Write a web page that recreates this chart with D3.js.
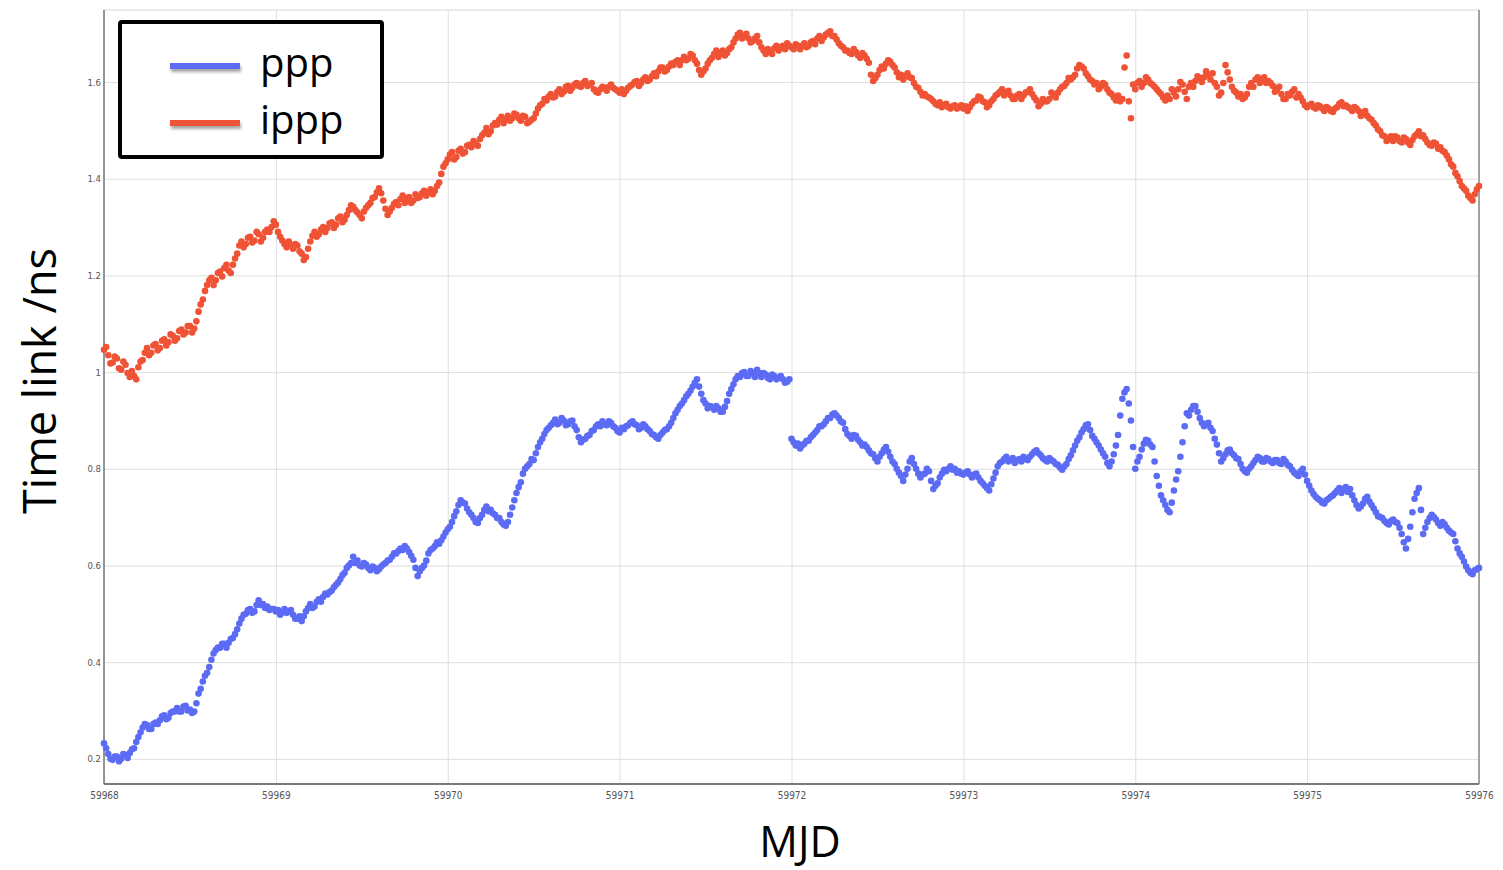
<!DOCTYPE html>
<html>
<head>
<meta charset="utf-8">
<script src="https://cdn.jsdelivr.net/npm/d3@7"></script>
<style>
body { margin: 0; background: #fff; }
</style>
</head>
<body>
<script>
// sampling of the record (MJD days)
const mjdFirst = 59968, mjdLast = 59976, mjdStep = 0.025;

const xTicks = [59968, 59969, 59970, 59971, 59972, 59973, 59974, 59975, 59976];
const yTicks = [0.2, 0.4, 0.6, 0.8, 1, 1.2, 1.4, 1.6];
const yTickLabels = ["0.2", "0.4", "0.6", "0.8", "1", "1.2", "1.4", "1.6"];
const seriesNames = ["ppp", "ippp"];

// time link, ns, at mjdFirst + i*mjdStep
const ppp = [
 0.232,0.21,0.198,0.205,0.2,0.208,0.212,0.222,0.245,0.265,0.27,0.262,0.275,0.28,0.29,0.285,0.298,0.305,0.298,0.31,
 0.302,0.298,0.335,0.36,0.378,0.405,0.425,0.43,0.438,0.44,0.45,0.468,0.49,0.5,0.51,0.505,0.528,0.52,0.515,0.51,
 0.505,0.498,0.51,0.505,0.498,0.49,0.485,0.505,0.52,0.515,0.53,0.535,0.54,0.548,0.56,0.572,0.585,0.6,0.618,0.61,
 0.598,0.602,0.59,0.595,0.592,0.602,0.61,0.618,0.625,0.635,0.64,0.628,0.612,0.578,0.595,0.61,0.632,0.64,0.645,0.66,
 0.675,0.69,0.712,0.735,0.728,0.71,0.698,0.688,0.705,0.722,0.715,0.705,0.698,0.685,0.69,0.72,0.75,0.772,0.8,0.81,
 0.818,0.845,0.862,0.88,0.89,0.902,0.895,0.9,0.892,0.9,0.88,0.855,0.862,0.87,0.88,0.892,0.898,0.89,0.895,0.885,
 0.875,0.882,0.89,0.898,0.89,0.885,0.888,0.878,0.87,0.862,0.875,0.882,0.895,0.915,0.93,0.942,0.955,0.97,0.985,0.955,
 0.935,0.93,0.922,0.925,0.918,0.94,0.965,0.985,0.99,1.0,0.992,0.998,1.005,0.99,0.995,0.985,0.992,0.988,0.985,0.98,
 0.862,0.848,0.842,0.852,0.858,0.87,0.88,0.888,0.898,0.905,0.915,0.905,0.895,0.872,0.862,0.868,0.855,0.85,0.838,0.83,
 0.815,0.832,0.845,0.825,0.81,0.792,0.775,0.8,0.822,0.8,0.782,0.79,0.795,0.758,0.77,0.79,0.795,0.805,0.8,0.795,
 0.788,0.795,0.782,0.79,0.775,0.765,0.755,0.78,0.805,0.815,0.825,0.818,0.812,0.82,0.825,0.818,0.83,0.838,0.828,0.818,
 0.822,0.815,0.808,0.798,0.81,0.828,0.848,0.865,0.882,0.892,0.868,0.855,0.84,0.825,0.805,0.83,0.87,0.945,0.965,0.9,
 0.8,0.825,0.852,0.858,0.845,0.785,0.745,0.725,0.71,0.755,0.795,0.855,0.915,0.922,0.93,0.905,0.888,0.895,0.878,0.85,
 0.815,0.83,0.84,0.828,0.82,0.8,0.792,0.805,0.818,0.822,0.815,0.82,0.812,0.818,0.81,0.815,0.805,0.792,0.785,0.8,
 0.775,0.755,0.742,0.735,0.728,0.738,0.745,0.755,0.75,0.762,0.758,0.735,0.718,0.728,0.742,0.725,0.71,0.7,0.692,0.685,
 0.695,0.688,0.665,0.635,0.68,0.738,0.76,0.665,0.69,0.705,0.695,0.682,0.685,0.672,0.665,0.635,0.618,0.598,0.585,0.59,
 0.595
];
// ppp readings in between, at mjdFirst + (i+0.5)*mjdStep (other edge of the scatter band)
const pppMid = [
 0.222,0.2,0.205,0.195,0.21,0.202,0.22,0.235,0.255,0.272,0.262,0.272,0.272,0.288,0.282,0.295,0.298,0.298,0.308,0.3,
 0.295,0.315,0.345,0.372,0.39,0.418,0.43,0.438,0.43,0.448,0.458,0.48,0.498,0.508,0.502,0.518,0.518,0.512,0.508,0.51,
 0.508,0.502,0.502,0.508,0.49,0.495,0.495,0.512,0.512,0.525,0.525,0.542,0.545,0.555,0.565,0.58,0.595,0.605,0.605,0.6,
 0.605,0.595,0.598,0.588,0.598,0.605,0.612,0.625,0.63,0.632,0.635,0.62,0.595,0.588,0.6,0.625,0.635,0.648,0.652,0.668,
 0.68,0.702,0.725,0.73,0.718,0.705,0.69,0.698,0.715,0.712,0.708,0.698,0.69,0.682,0.705,0.735,0.762,0.79,0.805,0.82,
 0.832,0.855,0.872,0.885,0.895,0.892,0.905,0.89,0.898,0.888,0.865,0.86,0.868,0.878,0.888,0.888,0.892,0.898,0.888,0.878,
 0.885,0.888,0.895,0.892,0.882,0.892,0.882,0.872,0.865,0.87,0.88,0.888,0.905,0.922,0.935,0.95,0.962,0.978,0.97,0.942,
 0.925,0.928,0.93,0.918,0.928,0.955,0.975,0.992,0.998,0.992,1.002,0.99,0.998,0.998,0.988,0.995,0.985,0.992,0.978,0.985,
 0.855,0.852,0.848,0.858,0.865,0.875,0.888,0.892,0.905,0.912,0.91,0.898,0.882,0.868,0.87,0.86,0.848,0.845,0.832,0.822,
 0.825,0.84,0.835,0.815,0.8,0.785,0.788,0.815,0.81,0.79,0.788,0.8,0.775,0.765,0.782,0.798,0.8,0.798,0.792,0.79,
 0.792,0.788,0.788,0.782,0.77,0.76,0.768,0.792,0.812,0.82,0.815,0.822,0.818,0.815,0.82,0.825,0.835,0.832,0.822,0.815,
 0.818,0.81,0.802,0.805,0.82,0.838,0.858,0.875,0.89,0.88,0.862,0.848,0.832,0.812,0.815,0.848,0.91,0.958,0.935,0.845,
 0.815,0.84,0.86,0.85,0.815,0.765,0.735,0.715,0.73,0.778,0.825,0.888,0.91,0.93,0.918,0.895,0.892,0.885,0.862,0.832,
 0.822,0.838,0.832,0.822,0.81,0.795,0.8,0.812,0.825,0.815,0.822,0.815,0.818,0.812,0.82,0.808,0.798,0.788,0.795,0.788,
 0.765,0.748,0.738,0.73,0.735,0.742,0.75,0.76,0.758,0.752,0.745,0.725,0.722,0.738,0.732,0.718,0.702,0.698,0.688,0.692,
 0.69,0.678,0.648,0.655,0.71,0.75,0.715,0.678,0.698,0.7,0.688,0.69,0.678,0.668,0.65,0.625,0.608,0.59,0.582,0.592
];

const ippp = [
 1.046,1.035,1.02,1.028,1.005,1.015,0.99,0.992,1.01,1.025,1.05,1.04,1.058,1.05,1.068,1.062,1.075,1.07,1.088,1.082,
 1.095,1.09,1.125,1.15,1.18,1.195,1.19,1.208,1.215,1.21,1.222,1.245,1.27,1.265,1.28,1.272,1.285,1.278,1.295,1.30,
 1.305,1.28,1.265,1.27,1.255,1.262,1.245,1.238,1.27,1.29,1.285,1.30,1.298,1.31,1.305,1.322,1.315,1.335,1.342,1.33,
 1.318,1.34,1.35,1.362,1.38,1.355,1.325,1.34,1.352,1.358,1.35,1.362,1.355,1.36,1.37,1.365,1.378,1.375,1.392,1.425,
 1.44,1.455,1.445,1.462,1.455,1.47,1.478,1.468,1.49,1.505,1.498,1.515,1.522,1.515,1.53,1.525,1.532,1.52,1.528,1.518,
 1.525,1.545,1.555,1.562,1.575,1.57,1.585,1.58,1.592,1.588,1.598,1.59,1.602,1.595,1.585,1.578,1.59,1.582,1.595,1.585,
 1.578,1.575,1.588,1.595,1.602,1.598,1.61,1.605,1.618,1.622,1.63,1.625,1.638,1.642,1.635,1.652,1.648,1.655,1.638,1.615,
 1.628,1.645,1.658,1.652,1.665,1.66,1.672,1.69,1.702,1.695,1.69,1.685,1.695,1.672,1.658,1.662,1.67,1.665,1.675,1.68,
 1.672,1.678,1.668,1.68,1.675,1.685,1.69,1.685,1.698,1.705,1.695,1.68,1.672,1.665,1.658,1.662,1.65,1.655,1.64,1.602,
 1.615,1.632,1.638,1.642,1.63,1.61,1.605,1.618,1.608,1.59,1.58,1.575,1.568,1.56,1.552,1.548,1.555,1.545,1.552,1.548,
 1.545,1.54,1.555,1.562,1.568,1.558,1.552,1.565,1.575,1.585,1.578,1.572,1.565,1.575,1.572,1.58,1.575,1.562,1.555,1.56,
 1.565,1.572,1.578,1.59,1.598,1.605,1.615,1.635,1.628,1.612,1.602,1.598,1.59,1.595,1.578,1.568,1.572,1.565,1.655,1.525,
 1.585,1.602,1.598,1.605,1.595,1.585,1.575,1.562,1.565,1.578,1.585,1.595,1.565,1.598,1.602,1.608,1.61,1.615,1.618,1.59,
 1.578,1.635,1.605,1.582,1.57,1.565,1.575,1.598,1.605,1.598,1.61,1.602,1.592,1.585,1.575,1.565,1.572,1.585,1.575,1.56,
 1.548,1.555,1.545,1.55,1.54,1.545,1.538,1.548,1.558,1.552,1.545,1.548,1.54,1.535,1.53,1.522,1.51,1.498,1.488,1.482,
 1.478,1.485,1.475,1.482,1.47,1.488,1.498,1.49,1.475,1.468,1.472,1.465,1.455,1.44,1.425,1.405,1.385,1.375,1.36,1.368,
 1.385
];
const ipppMid = [
 1.052,1.018,1.032,1.008,1.022,0.998,1.002,0.985,1.022,1.04,1.035,1.055,1.045,1.065,1.055,1.078,1.065,1.085,1.078,1.095,
 1.082,1.105,1.14,1.168,1.19,1.18,1.205,1.198,1.222,1.205,1.235,1.262,1.258,1.278,1.268,1.29,1.27,1.29,1.29,1.312,
 1.29,1.272,1.258,1.262,1.265,1.25,1.232,1.255,1.282,1.28,1.295,1.29,1.308,1.298,1.318,1.31,1.325,1.345,1.335,1.325,
 1.332,1.345,1.36,1.372,1.37,1.338,1.332,1.348,1.345,1.365,1.358,1.35,1.368,1.362,1.375,1.372,1.368,1.385,1.41,1.432,
 1.45,1.44,1.458,1.452,1.468,1.465,1.472,1.482,1.495,1.492,1.51,1.512,1.528,1.522,1.52,1.535,1.525,1.53,1.515,1.522,
 1.535,1.552,1.565,1.57,1.568,1.58,1.575,1.59,1.582,1.595,1.592,1.598,1.592,1.598,1.58,1.585,1.588,1.59,1.588,1.582,
 1.585,1.582,1.592,1.6,1.592,1.605,1.602,1.612,1.612,1.63,1.622,1.632,1.635,1.645,1.645,1.645,1.658,1.645,1.625,1.622,
 1.638,1.65,1.665,1.66,1.655,1.668,1.682,1.698,1.69,1.7,1.682,1.69,1.682,1.665,1.668,1.658,1.675,1.672,1.668,1.675,
 1.668,1.675,1.675,1.672,1.682,1.678,1.695,1.692,1.702,1.695,1.688,1.675,1.665,1.66,1.668,1.655,1.66,1.648,1.615,1.608,
 1.625,1.628,1.645,1.635,1.62,1.615,1.612,1.61,1.598,1.588,1.572,1.57,1.565,1.555,1.558,1.552,1.548,1.55,1.545,1.552,
 1.55,1.548,1.56,1.57,1.56,1.548,1.56,1.572,1.58,1.572,1.582,1.565,1.572,1.565,1.578,1.585,1.568,1.55,1.565,1.56,
 1.578,1.568,1.585,1.592,1.608,1.61,1.628,1.632,1.618,1.605,1.595,1.585,1.598,1.585,1.575,1.562,1.56,1.63,1.56,1.595,
 1.598,1.59,1.61,1.598,1.59,1.58,1.568,1.572,1.585,1.57,1.6,1.58,1.59,1.59,1.612,1.6,1.622,1.605,1.598,1.572,
 1.598,1.62,1.59,1.578,1.575,1.568,1.59,1.59,1.61,1.605,1.598,1.598,1.58,1.59,1.565,1.575,1.58,1.568,1.568,1.552,
 1.552,1.548,1.552,1.545,1.548,1.54,1.545,1.555,1.55,1.548,1.54,1.545,1.53,1.54,1.525,1.515,1.502,1.49,1.478,1.488,
 1.488,1.478,1.485,1.475,1.48,1.492,1.488,1.482,1.47,1.475,1.462,1.458,1.448,1.43,1.412,1.395,1.38,1.365,1.355,1.378
];

window.onload = function(){(function(){
let W = 1503, H = 870;
let m = {top: 10, left: 104, bottom: 86, right: 24},
    w = W - m.left - m.right,
    h = H - m.top - m.bottom;

let colors = {ppp: "#5c6bf4", ippp: "#ef5234"};

let svg = d3.select("body").append("svg")
    .attr("width", W)
    .attr("height", H);

let defs = svg.append("defs");
defs.append("filter").attr("id", "shadow")
    .attr("x", "-20%").attr("y", "-100%").attr("width", "150%").attr("height", "400%")
  .append("feDropShadow")
    .attr("dx", 1).attr("dy", 3).attr("stdDeviation", 1.5)
    .attr("flood-color", "#000").attr("flood-opacity", 0.35);

let g = svg.append("g")
    .attr("transform", "translate(" + m.left + "," + m.top + ")");

let x = d3.scaleLinear().domain([mjdFirst, mjdLast]).range([0, w]);
let y = d3.scaleLinear().domain([0.148, 1.749]).range([h, 0]);

// frame + grid
g.append("rect")
    .attr("width", w).attr("height", h)
    .attr("fill", "none").attr("stroke", "#d8d8d8");

let xAxis = g.append("g")
    .attr("transform", "translate(0," + h + ")")
    .call(d3.axisBottom(x).tickValues(xTicks).tickSize(-h).tickPadding(8).tickFormat(d3.format("d")));
let yAxis = g.append("g")
    .call(d3.axisLeft(y).tickValues(yTicks).tickSize(-w).tickPadding(3)
        .tickFormat(function(d, i){ return yTickLabels[i]; }));

[xAxis, yAxis].forEach(function(a){
  a.select(".domain").remove();
  a.selectAll(".tick line").attr("stroke", "#dedede").attr("stroke-width", 1);
  a.selectAll(".tick text")
    .attr("fill", "#555")
    .style("font-family", "'DejaVu Sans Condensed', 'Liberation Sans Narrow', sans-serif")
    .style("font-size", "10px");
});
yAxis.selectAll(".tick text").style("font-size", "9.5px");

// axis lines
g.append("line").attr("x1", 0).attr("x2", 0).attr("y1", 0).attr("y2", h)
    .attr("stroke", "#7a7a7a").attr("stroke-width", 1.5);
g.append("line").attr("x1", 0).attr("x2", w).attr("y1", h).attr("y2", h)
    .attr("stroke", "#555").attr("stroke-width", 1.5);
g.append("line").attr("x1", w).attr("x2", w).attr("y1", 0).attr("y2", h)
    .attr("stroke", "#777").attr("stroke-width", 1.2);

// points: main readings on the grid, in-between readings half a step later
let series = [
  {name: "ppp", values: ppp, offset: 0},
  {name: "ppp", values: pppMid, offset: 0.5},
  {name: "ippp", values: ippp, offset: 0},
  {name: "ippp", values: ipppMid, offset: 0.5}
];
series.forEach(function(s){
  g.append("g").selectAll("circle")
    .data(s.values)
    .enter().append("circle")
    .attr("cx", function(d, i){ return x(mjdFirst + (i + s.offset) * mjdStep); })
    .attr("cy", function(d){ return y(d); })
    .attr("r", 3.3)
    .attr("fill", colors[s.name]);
});

// axis titles
svg.append("text")
    .attr("x", 800).attr("y", 857)
    .attr("text-anchor", "middle")
    .style("font-family", "'Open Sans', sans-serif")
    .style("font-size", "43px")
    .text("MJD");
svg.append("text")
    .attr("transform", "translate(56,381) rotate(-90)")
    .attr("text-anchor", "middle")
    .style("font-family", "'Open Sans', sans-serif")
    .style("font-size", "45px")
    .text("Time link /ns");

// legend
let lg = svg.append("g").attr("transform", "translate(120,22)");
lg.append("rect")
    .attr("width", 262).attr("height", 135).attr("rx", 2)
    .attr("fill", "#fff").attr("stroke", "#000").attr("stroke-width", 4);
seriesNames.forEach(function(n, i){
  let yy = 44 + i * 57;
  lg.append("rect")
      .attr("x", 50).attr("width", 70).attr("y", yy - 3).attr("height", 6)
      .attr("fill", colors[n])
      .attr("filter", "url(#shadow)");
  lg.append("text")
      .attr("x", 140).attr("y", yy + 11)
      .style("font-family", "'Open Sans', sans-serif")
      .style("font-size", "40px")
      .text(n);
});

})()}
</script>
</body>
</html>
